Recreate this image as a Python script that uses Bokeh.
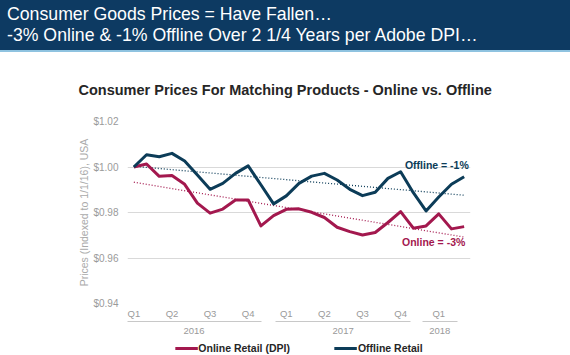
from bokeh.plotting import figure
from bokeh.models import (Label, LinearAxis, FixedTicker, NumeralTickFormatter, Legend,
                          LegendItem, Range1d, Div, Title)
from bokeh.layouts import column
from bokeh.embed import file_html
from bokeh.resources import INLINE

# ---------------- data ----------------
months = ["Jan 16", "Feb 16", "Mar 16", "Apr 16", "May 16", "Jun 16", "Jul 16", "Aug 16", "Sep 16",
          "Oct 16", "Nov 16", "Dec 16", "Jan 17", "Feb 17", "Mar 17", "Apr 17", "May 17", "Jun 17",
          "Jul 17", "Aug 17", "Sep 17", "Oct 17", "Nov 17", "Dec 17", "Jan 18", "Feb 18", "Mar 18"]
online = [1.000, 1.0013, 0.9959, 0.9963, 0.9924, 0.9841, 0.9797, 0.9815, 0.9855, 0.9855,
          0.9741, 0.9786, 0.9814, 0.9816, 0.9801, 0.9778, 0.9735, 0.9716, 0.9701, 0.9712,
          0.9756, 0.9804, 0.9731, 0.9741, 0.9794, 0.9728, 0.9738]
offline = [1.000, 1.0054, 1.0045, 1.0060, 1.0026, 0.9965, 0.9902, 0.9928, 0.9972, 1.0005,
           0.9922, 0.9838, 0.9873, 0.9928, 0.9960, 0.9972, 0.9943, 0.9902, 0.9874, 0.9889,
           0.9950, 0.9979, 0.9887, 0.9807, 0.9868, 0.9924, 0.9957]
trend_x = [0, 26]
online_trend = [0.9933, 0.9692]
offline_trend = [1.0003, 0.9876]
quarter_ticks = [0, 3, 6, 9, 12, 15, 18, 21, 24]
quarter_labels = ["Q1", "Q2", "Q3", "Q4", "Q1", "Q2", "Q3", "Q4", "Q1"]
years = ["2016", "2017", "2018"]
year_spans = [(-0.58, 10.05), (11.15, 21.8), (22.7, 25.45)]
y_ticks = [0.94, 0.96, 0.98, 1.00, 1.02]
series_names = ["Online Retail (DPI)", "Offline Retail"]

NAVY = "#0c3c58"
CRIMSON = "#a3184e"
HEADER = "#0d3a62"
FONT = "Liberation Sans"
GRAYTXT = "#9a9a9a"
NAN = float("nan")

HEAD_H = 52
LEG_H = 14
MAIN_H = 355 - HEAD_H - LEG_H

# ---------------- header band ----------------
head = Div(text="Consumer Goods Prices = Have Fallen\u2026<br>"
                "-3% Online &amp; -1% Offline Over 2 1/4 Years per Adobe DPI\u2026",
           width=570, height=HEAD_H, margin=0,
           styles={"background-color": HEADER, "color": "white",
                   "font-family": FONT, "font-size": "17.7px", "line-height": "21px",
                   "padding": "4px 7px 0 7px", "box-sizing": "border-box",
                   "border-bottom": "2px solid #8fc3e0", "white-space": "nowrap",
                   "overflow": "hidden"})

# ---------------- main chart ----------------
x = list(range(len(months)))

p = figure(width=570, height=MAIN_H, output_backend="svg", toolbar_location=None,
           x_range=Range1d(-0.5, 26.5), y_range=Range1d(0.94, 1.02),
           min_border_left=127, min_border_right=100, min_border_top=121 - HEAD_H,
           min_border_bottom=HEAD_H + MAIN_H - 303,
           x_axis_location=None, margin=0)
p.outline_line_color = None

p.add_layout(Title(text="Consumer Prices For Matching Products - Online vs. Offline",
                   align="left", offset=-49, standoff=47, text_font=FONT,
                   text_font_size="14.5px", text_font_style="bold", text_color="#262626"),
             "above")

# quarter axis
xq = LinearAxis(ticker=FixedTicker(ticks=quarter_ticks),
                major_label_overrides={t: l for t, l in zip(quarter_ticks, quarter_labels)})
xq.axis_line_color = None
xq.major_tick_line_color = None
xq.minor_tick_line_color = None
xq.major_tick_out = 0
xq.major_label_standoff = 4
xq.major_label_text_font = FONT
xq.major_label_text_font_size = "9.5px"
xq.major_label_text_color = GRAYTXT
p.add_layout(xq, "below")

# year group underlines (bounded axis lines)
for a, b in year_spans:
    ax = LinearAxis(ticker=FixedTicker(ticks=[]), bounds=(a, b))
    ax.axis_line_color = "#c8c8c8"
    ax.axis_line_width = 1
    ax.major_tick_line_color = None
    ax.minor_tick_line_color = None
    ax.major_tick_out = 0
    ax.major_tick_in = 0
    ax.minor_tick_out = 0
    ax.minor_tick_in = 0
    ax.major_label_standoff = 0
    p.add_layout(ax, "below")

# year labels
year_centers = [(a + b) / 2 for a, b in year_spans]
xy = LinearAxis(ticker=FixedTicker(ticks=year_centers),
                major_label_overrides={t: l for t, l in zip(year_centers, years)})
xy.axis_line_color = None
xy.major_tick_line_color = None
xy.minor_tick_line_color = None
xy.major_tick_out = 0
xy.major_label_standoff = 6
xy.major_label_text_font = FONT
xy.major_label_text_font_size = "9.5px"
xy.major_label_text_color = GRAYTXT
p.add_layout(xy, "below")

yax = p.yaxis[0]
yax.ticker = FixedTicker(ticks=y_ticks)
yax.formatter = NumeralTickFormatter(format="$0.00")
yax.axis_line_color = None
yax.major_tick_line_color = None
yax.minor_tick_line_color = None
yax.major_label_text_font = FONT
yax.major_label_text_font_size = "10px"
yax.major_label_text_color = GRAYTXT
yax.major_label_standoff = 3
yax.axis_label = "Prices (Indexed to 1/1/16), USA"
yax.axis_label_text_font = FONT
yax.axis_label_text_font_size = "10.5px"
yax.axis_label_text_font_style = "normal"
yax.axis_label_text_color = "#aaaaaa"
yax.axis_label_standoff = 0

p.xgrid.visible = False
p.ygrid.ticker = FixedTicker(ticks=y_ticks)
p.ygrid.grid_line_color = "#d9d9d9"

# trend lines
p.line(trend_x, offline_trend, line_color=NAVY, line_width=1.3, line_dash="1 2")
p.line(trend_x, online_trend, line_color=CRIMSON, line_width=1.3, line_dash="1 2")

# series
p.line(x, online, line_color=CRIMSON, line_width=3, line_join="round")
p.line(x, offline, line_color=NAVY, line_width=3, line_join="round")

# trend labels
p.add_layout(Label(x=23.85, y=1.0007, text="Offline = -1%", text_align="center",
                   text_baseline="middle", text_font=FONT, text_font_size="10.5px",
                   text_font_style="bold", text_color=NAVY))
p.add_layout(Label(x=23.6, y=0.967, text="Online = -3%", text_align="center",
                   text_baseline="middle", text_font=FONT, text_font_size="10.5px",
                   text_font_style="bold", text_color=CRIMSON))

# ---------------- legend strip ----------------
lg = figure(width=570, height=LEG_H, output_backend="svg", toolbar_location=None,
            x_range=Range1d(0, 1), y_range=Range1d(0, 1), min_border_left=127,
            min_border_right=100, min_border_top=0, min_border_bottom=0,
            x_axis_location=None, y_axis_location=None, margin=0)
lg.outline_line_color = None
lg.xgrid.visible = False
lg.ygrid.visible = False
l_on = lg.line([NAN], [NAN], line_color=CRIMSON, line_width=3)
l_off = lg.line([NAN], [NAN], line_color=NAVY, line_width=3)
legend = Legend(items=[LegendItem(label=series_names[0], renderers=[l_on]),
                       LegendItem(label=series_names[1], renderers=[l_off])],
                orientation="horizontal", location="center", spacing=44,
                glyph_width=23, glyph_height=10, label_standoff=1, padding=0, margin=0,
                border_line_color=None, background_fill_alpha=0,
                label_height=10, label_text_font=FONT, label_text_font_size="10.5px",
                label_text_font_style="bold", label_text_color="#262626")
lg.add_layout(legend)

open("out.html", "w").write(file_html(column(head, p, lg, spacing=0), INLINE))
